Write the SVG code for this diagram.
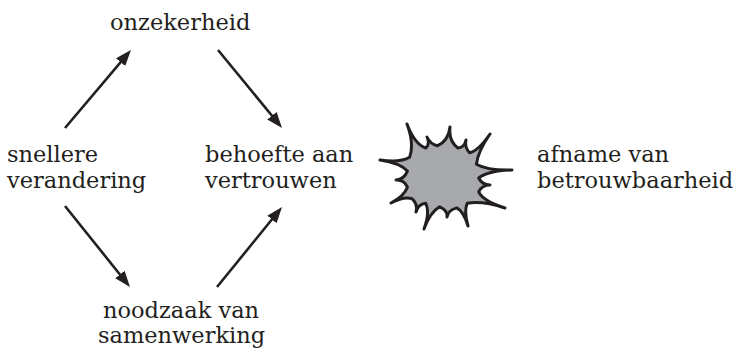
<svg xmlns="http://www.w3.org/2000/svg" width="735" height="353" viewBox="0 0 735 353">
<defs>
<style>
text{font-family:"DejaVu Serif","Liberation Serif",serif;font-size:22.5px;fill:#231f20}
.conn line{stroke:#231f20;stroke-width:2.6;fill:none}
</style>
<marker id="ah" viewBox="0 0 16 12" markerWidth="16" markerHeight="12" refX="6" refY="6" orient="auto" markerUnits="userSpaceOnUse">
<path d="M0,0 L16,6 L0,12 z" fill="#231f20"/>
</marker>
</defs>
<rect width="735" height="353" fill="#fff"/>
<g class="conn" id="connectors">
<line x1="65" y1="128" x2="124.5" y2="57.6" marker-end="url(#ah)"/>
<line x1="218" y1="50" x2="275.7" y2="120.3" marker-end="url(#ah)"/>
<line x1="65" y1="206" x2="123.7" y2="279.2" marker-end="url(#ah)"/>
<line x1="217" y1="287" x2="275.7" y2="214.8" marker-end="url(#ah)"/>
</g>
<g id="onzekerheid"><text x="110" y="30">onzekerheid</text></g>
<g id="snellere-verandering"><text x="7" y="162">snellere</text><text x="7" y="188">verandering</text></g>
<g id="behoefte"><text x="205" y="162">behoefte aan</text><text x="205" y="188">vertrouwen</text></g>
<g id="noodzaak"><text x="103" y="318">noodzaak van</text><text x="98" y="343">samenwerking</text></g>
<g id="burst">
<path fill="#a7a9ac" stroke="#231f20" stroke-width="3" stroke-linejoin="round" d="M407.4,171.1 Q400,162.9 380,160 Q400,162.9 409.6,157.3 Q414.5,144.1 407,124 Q414.5,144.1 425.8,148.1 Q430.2,144 427,137 Q430.2,144 437.3,145.8 Q448.4,141 450,127 Q448.4,141 458,148.1 Q464.5,147.3 466,140 Q464.5,147.3 469.5,152.7 Q478.1,151.1 490,134 Q478.1,151.1 476.4,164.2 Q487.9,170.8 512,170 Q487.9,170.8 478.7,178 Q482.1,184.9 490,185 Q482.1,184.9 478.7,191.8 Q482.6,200.7 505,208 Q482.6,200.7 467.2,203.3 Q463.8,211.7 468,226 Q463.8,211.7 456.8,207.9 Q447.8,210.3 447,217 Q447.8,210.3 439.6,206.8 Q430.1,212.3 424,229 Q430.1,212.3 425.8,203.3 Q418,204.3 416,212 Q418,204.3 412,198.7 Q404.1,196 391,203 Q404.1,196 407.4,187.2 Q404,179.4 396,180 Q404,179.4 407.4,171.1 Z"/>
</g>
<g id="afname"><text x="537" y="162">afname van</text><text x="537" y="188">betrouwbaarheid</text></g>
</svg>
